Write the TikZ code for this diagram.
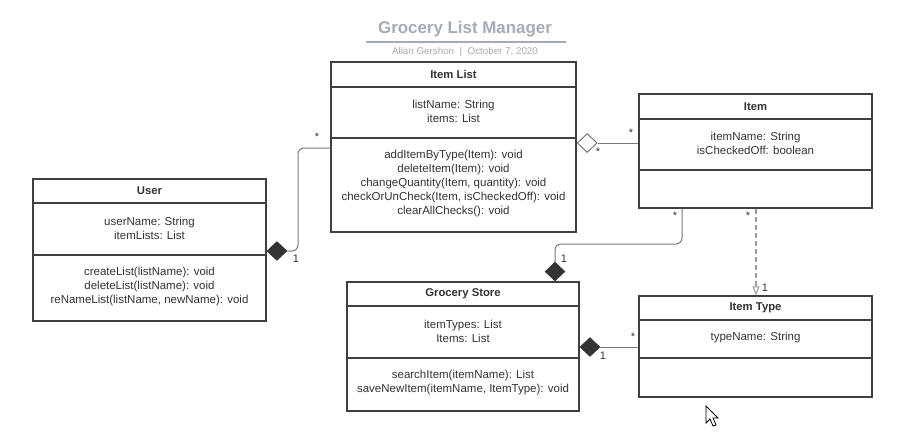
\documentclass[tikz,border=0pt]{standalone}
\usepackage{fontspec}
\setmainfont{Liberation Sans}
\usetikzlibrary{shapes.geometric,arrows.meta}
\definecolor{boxline}{HTML}{3F3F3F}
\definecolor{txt}{HTML}{333333}
\definecolor{conncol}{HTML}{7A7A7A}
\definecolor{dashcol}{HTML}{9A9A9A}
\definecolor{titlecol}{HTML}{A5ABB8}
\definecolor{subcol}{HTML}{ABABAB}
\definecolor{diamcol}{HTML}{333333}
\tikzset{
  classbox/.style={draw=boxline, line width=1.4pt, rectangle, inner sep=0pt, fill=white},
  divider/.style={draw=boxline, line width=1.4pt},
  headtxt/.style={font=\fontsize{11.3}{14}\selectfont\bfseries, text=txt, inner sep=0pt},
  bodytxt/.style={font=\fontsize{11.5}{14}\selectfont, text=txt, align=center, inner sep=0pt},
  conn/.style={draw=conncol, line width=1pt},
  dashconn/.style={draw=dashcol, line width=1.1pt, dash pattern=on 5pt off 3pt},
  fdiam/.style={diamond, fill=diamcol, draw=diamcol, line width=0.5pt, minimum width=20pt, minimum height=19pt, inner sep=0pt},
  odiam/.style={diamond, fill=white, draw=conncol, line width=1pt, minimum width=20pt, minimum height=19pt, inner sep=0pt},
  mult/.style={font=\fontsize{11}{12}\selectfont, text=txt, inner sep=0pt},
}
% \umlclass{name}{x1}{x2}{y1}{y2}{y3}{y4}{title}{attrs}
\newcommand{\umlclass}[9]{%
  \node[classbox, minimum width={#3-#2}, minimum height={#7-#4}] (#1) at ({(#2+#3)/2},{(#4+#7)/2}) {};
  \draw[divider] (#2,#5) -- (#3,#5);
  \draw[divider] (#2,#6) -- (#3,#6);
  \node[headtxt] (#1-title) at ({(#2+#3)/2},{(#4+#5)/2}) {#8};
  \node[bodytxt] (#1-attrs) at ({(#2+#3)/2},{(#5+#6)/2-1}) {#9};
}
\begin{document}
\begin{tikzpicture}[x=1pt,y=-1pt]
\useasboundingbox (0,0) rectangle (909,442);
\fill[white] (0,0) rectangle (909,442);

% title
\node[font=\fontsize{16.9}{19}\selectfont\bfseries, text=titlecol, inner sep=0pt] (title) at (465,29) {Grocery List Manager};
\draw[draw=titlecol, line width=1.3pt] (366,42) -- (566,42);
\node[font=\fontsize{9.8}{11}\selectfont, text=subcol, inner sep=0pt] (subtitle) at (465,52) {Allan Gershon \ \textbar\ \ October 7, 2020};

% classes
\umlclass{user}{33}{266}{179}{203}{255}{321}{User}{userName: String\\itemLists: List}
\node[bodytxt] (user-methods) at (149.5,287) {createList(listName): void\\deleteList(listName): void\\reNameList(listName, newName): void};

\umlclass{il}{331}{576}{62}{87}{138}{232}{Item List}{listName: String\\items: List}
\node[bodytxt] (il-methods) at (453.5,184) {addItemByType(Item): void\\deleteItem(Item): void\\changeQuantity(Item, quantity): void\\checkOrUnCheck(Item, isCheckedOff): void\\clearAllChecks(): void};

\umlclass{item}{639}{872}{94}{119}{170}{208}{Item}{itemName: String\\isCheckedOff: boolean}

\umlclass{gs}{347}{579}{282}{306}{358}{411}{Grocery Store}{itemTypes: List\\Items: List}
\node[bodytxt] (gs-methods) at (463,383) {searchItem(itemName): List\\saveNewItem(itemName, ItemType): void};

\umlclass{it}{639}{872}{296}{320}{358}{397}{Item Type}{typeName: String}

% User <- Item List (composition)
\node[fdiam, anchor=west] (d1) at (user.east |- 0,251) {};
\draw[conn, rounded corners=6pt] (d1.east) -| (298,148) -- (il.west |- 0,148);
\node[mult] (m1a) at (317,137) {*};
\node[mult] (m1b) at (296,259) {1};

% Item List <>- Item (aggregation)
\node[odiam, anchor=west] (d2) at (il.east |- 0,143) {};
\draw[conn] (d2.east) -- (item.west |- d2.east);
\node[mult] (m2a) at (598,152) {*};
\node[mult] (m2b) at (631,133) {*};

% Item -> Grocery Store (composition)
\node[fdiam, anchor=south] (d3) at (gs.north -| 555,0) {};
\draw[conn, rounded corners=6pt] (item.south -| 682,0) |- (d3.north |- 0,244) -- (d3.north);
\node[mult] (m3a) at (675,216) {*};
\node[mult] (m3b) at (564,259) {1};

% Item --> Item Type (dependency)
\draw[dashconn, -{Triangle[open, length=9pt, width=7pt, line width=1pt, sep=0pt]}] (item.south -| 756,0) -- (it.north -| 756,0);
\node[mult] (m4a) at (748,216) {*};
\node[mult] (m4b) at (765,288) {1};

% Grocery Store <- Item Type (composition)
\node[fdiam, anchor=west] (d4) at (gs.east |- 0,347) {};
\draw[conn] (d4.east) -- (it.west |- d4.east);
\node[mult] (m5a) at (633,337) {*};
\node[mult] (m5b) at (603,356) {1};

% mouse cursor
\draw[fill=white, draw=black, line width=0.8pt, line join=miter] (706,406) -- (706,423) -- (710,419) -- (713,426) -- (716,425) -- (713,418) -- (718,418) -- cycle;
\end{tikzpicture}
\end{document}
